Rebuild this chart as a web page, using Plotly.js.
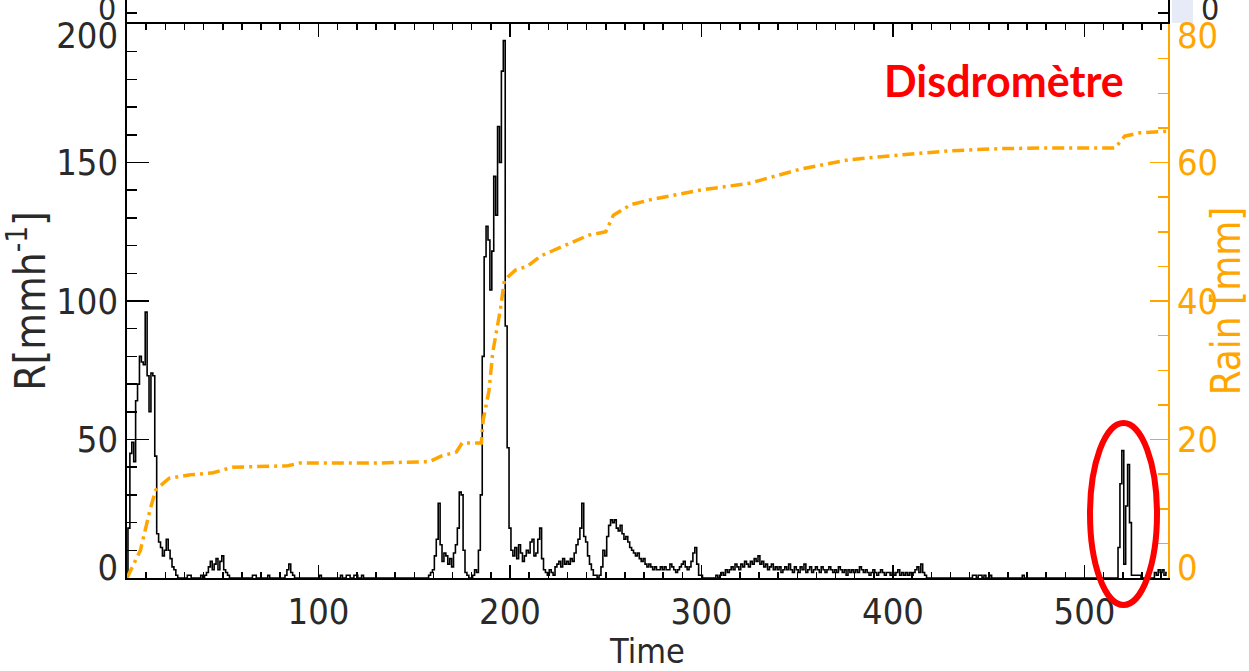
<!DOCTYPE html>
<html>
<head>
<meta charset="utf-8">
<script src="https://cdn.plot.ly/plotly-3.0.1.min.js"></script>
<style>html,body{margin:0;padding:0;background:#fff;}#chart{width:1249px;height:671px;}</style>
</head>
<body>
<div id="chart"></div>
<script>
// Rain rate R [mm h^-1], one value per time step (index = Time)
const R = [
  0, 18, 45, 49, 42, 64, 70, 80, 78, 77,
  96, 73, 60, 74, 73, 44, 16, 13, 11, 8,
  10, 14, 10, 7, 4, 3, 1, 0, 0, 0,
  0, 0, 1, 1, 0, 0, 0, 0, 0, 1,
  0, 1, 2, 4, 6, 3, 5, 7, 3, 6,
  8, 3, 2, 1, 0, 0, 0, 0, 0, 0,
  0, 0, 0, 0, 0, 0, 1, 1, 0, 0,
  0, 0, 0, 0, 1, 0, 0, 0, 0, 0,
  0, 0, 0, 1, 3, 5, 2, 1, 0, 0,
  0, 0, 0, 0, 0, 0, 0, 0, 0, 0,
  0, 1, 0, 0, 0, 0, 0, 0, 0, 0,
  0, 0, 1, 0, 0, 1, 1, 0, 0, 1,
  1, 0, 0, 1, 0, 0, 0, 0, 0, 0,
  0, 0, 0, 0, 0, 0, 0, 0, 0, 0,
  0, 0, 0, 0, 0, 0, 0, 0, 0, 0,
  0, 0, 0, 0, 0, 0, 0, 0, 1, 2,
  3, 8, 14, 27, 12, 6, 9, 8, 5, 7,
  4, 9, 12, 18, 31, 30, 10, 2, 1, 0,
  0, 1, 3, 2, 10, 30, 80, 116, 127, 122,
  104, 118, 145, 131, 163, 150, 183, 194, 91, 47,
  18, 10, 8, 11, 7, 12, 9, 6, 8, 10,
  9, 13, 14, 8, 9, 14, 18, 7, 3, 2,
  1, 3, 2, 1, 4, 5, 6, 4, 7, 5,
  6, 5, 7, 6, 9, 12, 14, 18, 27, 15,
  13, 8, 5, 3, 1, 1, 0, 1, 4, 10,
  8, 15, 19, 21, 20, 21, 18, 17, 19, 16,
  14, 15, 13, 11, 10, 9, 8, 9, 7, 6,
  7, 5, 4, 5, 4, 3, 4, 3, 3, 4,
  3, 4, 3, 3, 5, 4, 3, 2, 3, 4,
  5, 6, 4, 3, 4, 6, 9, 11, 5, 1,
  1, 0, 0, 0, 0, 0, 0, 0, 1, 0,
  1, 2, 1, 3, 2, 3, 4, 3, 5, 4,
  3, 5, 4, 6, 5, 4, 6, 5, 7, 6,
  8, 5, 6, 4, 5, 3, 4, 5, 3, 4,
  3, 4, 2, 3, 4, 3, 5, 3, 2, 4,
  3, 2, 4, 3, 5, 2, 3, 4, 2, 3,
  4, 3, 2, 4, 3, 2, 3, 4, 3, 2,
  3, 2, 4, 3, 2, 3, 1, 3, 2, 3,
  2, 3, 2, 4, 3, 2, 3, 2, 1, 2,
  3, 2, 1, 2, 3, 2, 1, 2, 2, 1,
  2, 1, 2, 3, 1, 2, 1, 2, 1, 2,
  1, 2, 3, 4, 2, 5, 2, 1, 0, 0,
  0, 0, 0, 0, 0, 0, 0, 0, 0, 0,
  0, 0, 0, 0, 0, 0, 0, 0, 0, 0,
  0, 0, 1, 1, 0, 1, 1, 0, 1, 0,
  0, 1, 0, 0, 0, 0, 0, 0, 0, 0,
  0, 0, 0, 0, 0, 0, 0, 0, 1, 0,
  0, 0, 0, 0, 0, 0, 0, 0, 0, 0,
  0, 0, 0, 0, 0, 0, 0, 0, 0, 0,
  0, 0, 0, 0, 0, 0, 0, 0, 0, 0,
  0, 0, 0, 0, 0, 0, 0, 0, 0, 0,
  0, 0, 0, 0, 0, 0, 0, 0, 11, 34,
  46, 5, 26, 41, 20, 1, 1, 1, 1, 1,
  0, 0, 0, 0, 0, 0, 0, 2, 1, 3,
  2, 3, 1, 2
];
const timeSteps = R.map((_, i) => i);

// Cumulative rain [mm]
const rainTime = [0, 7, 12, 15, 19, 22, 33, 45, 55, 84, 90, 130, 158, 164, 172, 175, 185, 186, 189, 191, 193, 195, 197, 199, 203, 209, 216, 228, 241, 250, 254, 263, 273, 299, 325, 351, 377, 404, 430, 456, 482, 516, 521, 529, 543];
const rainMm   = [0, 4, 9.8, 12.7, 13.7, 14.4, 14.9, 15.2, 16, 16.2, 16.6, 16.6, 16.8, 17.6, 18.2, 19.5, 19.5, 22.8, 27, 32.6, 35.7, 38.8, 42.9, 43.5, 44.5, 45, 46.5, 48, 49.5, 50, 52.4, 53.9, 54.6, 56, 57, 59, 60.4, 61.1, 61.7, 62, 62.1, 62.1, 63.8, 64.3, 64.5];

const xTicks = [100, 200, 300, 400, 500];
const leftTicks = [0, 50, 100, 150, 200];
const rightTicks = [0, 20, 40, 60, 80];

const ORANGE = '#FFA500';
const TEXTC = '#2a2a2a';
const TICKFONT = 'DejaVu Sans Condensed, Liberation Sans Narrow, DejaVu Sans, sans-serif';

const H = 578; // plot-area height in px (top margin 0)
const mainTop = 554 / H;

// IDL draws end labels pulled inward; shift them slightly
const leftLabelPos = leftTicks.map(v => v === 0 ? v + 4 : (v === 200 ? v - 4 : v));
const rightLabelPos = rightTicks.map(v => v === 0 ? v + 1.6 : (v === 80 ? v - 1.6 : v));

const traces = [
  { x: timeSteps, y: R, type: 'scatter', mode: 'lines', xaxis: 'x', yaxis: 'y',
    line: { color: '#000', width: 1.6, shape: 'hvh' }, hoverinfo: 'skip' },
  { x: rainTime, y: rainMm, type: 'scatter', mode: 'lines', xaxis: 'x', yaxis: 'y2',
    line: { color: ORANGE, width: 3.5, dash: '12px,5px,3px,5px' }, hoverinfo: 'skip' },
  { x: [0], y: [null], type: 'scatter', mode: 'lines', xaxis: 'x', yaxis: 'y3', hoverinfo: 'skip' },
  { x: [0], y: [null], type: 'scatter', mode: 'lines', xaxis: 'x', yaxis: 'y4', hoverinfo: 'skip' },
  { x: [0], y: [null], type: 'scatter', mode: 'lines', xaxis: 'x', yaxis: 'y5', hoverinfo: 'skip' }
];

const layout = {
  width: 1249, height: 671,
  margin: { l: 127, r: 81, t: 0, b: 93 },
  paper_bgcolor: '#fff', plot_bgcolor: '#fff',
  showlegend: false,
  xaxis: {
    domain: [0, 1], anchor: 'y', range: [0, 543.6],
    showline: true, linecolor: '#000', linewidth: 2, mirror: 'ticks',
    ticks: 'inside', ticklen: 13, tickwidth: 1.5, tickcolor: '#000',
    tickmode: 'array', tickvals: xTicks, ticktext: xTicks.map(String),
    minor: { dtick: 10, tick0: 0, ticks: 'inside', ticklen: 6, tickwidth: 1.5, tickcolor: '#000', showgrid: false },
    showgrid: false, zeroline: false,
    tickfont: { family: TICKFONT, size: 36, color: TEXTC },
    ticklabelstandoff: 1,
    title: { text: 'Time', font: { family: TICKFONT, size: 34, color: TEXTC }, standoff: 35 }
  },
  yaxis: {
    domain: [0, mainTop], anchor: 'x', range: [0, 200],
    showline: true, linecolor: '#000', linewidth: 2,
    ticks: 'inside', ticklen: 22, tickwidth: 1.5, tickcolor: '#000',
    tick0: 0, dtick: 50,
    minor: { dtick: 10, tick0: 0, ticks: 'inside', ticklen: 10, tickwidth: 1.5, tickcolor: '#000', showgrid: false },
    showticklabels: false, showgrid: false, zeroline: false
  },
  yaxis2: {
    overlaying: 'y', side: 'right', anchor: 'x', range: [0, 80],
    showline: true, linecolor: ORANGE, linewidth: 2,
    ticks: 'inside', ticklen: 18, tickwidth: 1.5, tickcolor: ORANGE,
    tick0: 0, dtick: 20,
    minor: { dtick: 5, tick0: 0, ticks: 'inside', ticklen: 10, tickwidth: 1.5, tickcolor: ORANGE, showgrid: false },
    showticklabels: false, showgrid: false, zeroline: false
  },
  yaxis3: {
    overlaying: 'y', side: 'left', anchor: 'x', range: [0, 200],
    showline: false, ticks: '', showgrid: false, zeroline: false,
    tickmode: 'array', tickvals: leftLabelPos, ticktext: leftTicks.map(String),
    tickfont: { family: TICKFONT, size: 36, color: TEXTC },
    ticklabelstandoff: 8,
    title: { text: 'R[mmh<sup>-1</sup>]', font: { family: TICKFONT, size: 42, color: TEXTC }, standoff: 0 }
  },
  yaxis4: {
    overlaying: 'y', side: 'right', anchor: 'x', range: [0, 80],
    showline: false, ticks: '', showgrid: false, zeroline: false,
    tickmode: 'array', tickvals: rightLabelPos, ticktext: rightTicks.map(String),
    tickfont: { family: TICKFONT, size: 36, color: ORANGE },
    ticklabelstandoff: 8,
    title: { text: 'Rain [mm]', font: { family: TICKFONT, size: 40, color: ORANGE }, standoff: 19 }
  },
  yaxis5: {
    domain: [mainTop, 1], anchor: 'x', range: [0, 24],
    showline: true, linecolor: '#000', linewidth: 2, mirror: 'ticks',
    ticks: 'inside', ticklen: 10, tickwidth: 1.5, tickcolor: '#000',
    tickmode: 'array', tickvals: [11, 23],
    showticklabels: false, showgrid: false, zeroline: false
  },
  shapes: [
    { type: 'rect', xref: 'paper', yref: 'paper',
      x0: (1172 - 127) / 1041, x1: (1193 - 127) / 1041, y0: 1 - 23 / H, y1: 1,
      fillcolor: '#e6ebf7', line: { width: 0 }, layer: 'below' },
    { type: 'circle', xref: 'paper', yref: 'paper',
      x0: (1090 - 127) / 1041, x1: (1157 - 127) / 1041, y0: 1 - 605 / H, y1: 1 - 423 / H,
      line: { color: '#FF0000', width: 6 } }
  ],
  annotations: [
    { text: '<b>Disdromètre</b>', xref: 'paper', yref: 'paper',
      x: (1004 - 127) / 1041, y: 1 - 80 / H, xanchor: 'center', yanchor: 'middle',
      showarrow: false, font: { family: 'Lato, Open Sans, sans-serif', size: 43, color: '#FF0000' } },
    { text: '0', xref: 'paper', yref: 'paper',
      x: (118 - 127) / 1041, y: 1 - 9 / H, xanchor: 'right', yanchor: 'middle',
      showarrow: false, font: { family: TICKFONT, size: 32, color: TEXTC } },
    { text: '0', xref: 'paper', yref: 'paper',
      x: (1210 - 127) / 1041, y: 1 - 9 / H, xanchor: 'center', yanchor: 'middle',
      showarrow: false, font: { family: TICKFONT, size: 32, color: TEXTC } }
  ]
};

Plotly.newPlot('chart', traces, layout, { displayModeBar: false, staticPlot: true });
</script>
</body>
</html>
